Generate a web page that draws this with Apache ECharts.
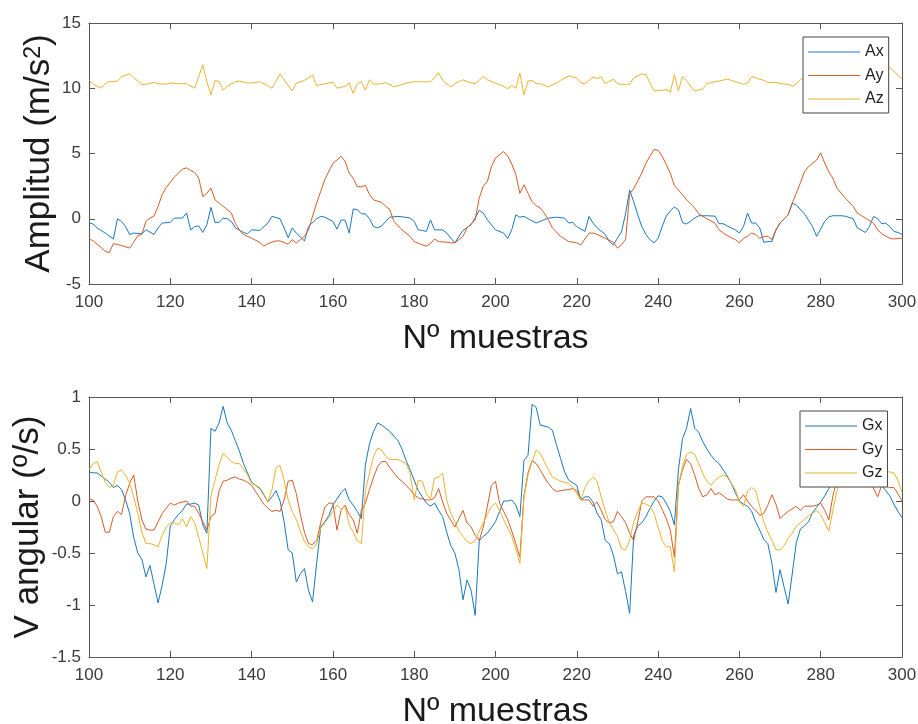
<!DOCTYPE html>
<html>
<head>
<meta charset="utf-8">
<script src="https://cdn.jsdelivr.net/npm/echarts@6/dist/echarts.min.js"></script>
<style>
  html, body { margin: 0; padding: 0; background: #fff; }
  #chart { width: 918px; height: 724px; }
</style>
</head>
<body>
<div id="chart"></div>
<script>
// [sample, value], acceleration (m/s^2)
const ax = [[100,-0.33],[101,-0.4],[102,-0.7],[104,-1.1],[106,-1.55],[107,0.0],[108,-0.2],[109,-0.6],[110,-1.2],[111,-1.1],[113,-1.15],[114,-0.85],[116,-1.2],[117,-0.7],[118,-0.33],[120,-0.28],[121,0.05],[122,0.05],[123,0.05],[124,0.45],[125,-0.85],[126,-0.6],[127,-0.55],[128,-1.05],[129,-0.45],[130,0.87],[131,-0.28],[132,-0.28],[133,0.05],[134,0.0],[135,-0.2],[136,-0.7],[138,-1.05],[139,-1.15],[140,-0.85],[142,-0.9],[144,-0.33],[145,0.18],[147,0.0],[148,-0.7],[149,-1.45],[150,-0.7],[151,-1.1],[153,-1.7],[154,-0.6],[156,0.0],[157,0.18],[158,0.12],[160,-0.2],[161,-0.8],[162,-0.1],[163,-0.1],[164,-1.1],[165,0.75],[166,0.7],[167,0.38],[168,0.38],[169,0.0],[170,-0.6],[171,-0.7],[172,-0.55],[173,-0.2],[174,0.12],[176,0.18],[177,0.15],[179,0.05],[180,-0.2],[181,-0.85],[182,-0.9],[183,-0.97],[184,-0.08],[185,-0.85],[187,-0.85],[188,-1.1],[190,-1.85],[191,-1.35],[192,-0.9],[194,-0.45],[195,0.05],[196,0.65],[197,0.43],[198,-0.08],[200,-0.85],[202,-1.1],[203,-1.5],[204,-0.85],[205,0.3],[206,0.12],[207,0.18],[208,0.0],[210,-0.33],[211,-0.2],[213,0.05],[215,0.12],[217,0.05],[218,-0.33],[219,-0.28],[220,-0.6],[222,-0.97],[223,0.18],[224,-0.33],[225,-0.7],[227,-1.2],[228,-1.75],[229,-2.0],[230,-1.5],[231,-1.0],[232,0.4],[233,2.2],[234,1.3],[235,0.3],[236,-0.6],[237,-1.2],[238,-1.6],[239,-1.85],[240,-1.5],[241,-0.6],[242,0.2],[243,0.6],[244,0.9],[245,0.7],[246,-0.3],[247,-0.4],[248,-0.2],[249,0.05],[250,0.23],[252,0.23],[254,0.2],[255,-0.38],[256,-0.38],[257,-0.55],[259,-0.85],[260,-1.1],[261,-0.6],[262,0.43],[263,-0.33],[264,-0.33],[265,-0.7],[266,-1.8],[267,-1.75],[268,-1.75],[269,-0.85],[270,-0.33],[272,0.3],[273,1.2],[274,1.05],[276,0.38],[278,-0.6],[279,-1.35],[281,-0.2],[282,0.15],[283,0.23],[285,0.23],[286,0.2],[288,0.0],[289,-0.7],[291,-1.05],[292,-0.6],[293,0.18],[294,0.0],[295,-0.38],[296,-0.33],[297,-0.6],[298,-0.97],[299,-1.05],[300,-1.2]];

const ay = [[100,-1.5],[101,-1.7],[103,-2.2],[104,-2.5],[105,-2.6],[106,-1.9],[108,-2.05],[110,-2.25],[111,-1.8],[112,-1.3],[113,-1.2],[114,-0.2],[115,0.05],[116,0.2],[117,0.95],[118,1.85],[119,2.4],[121,3.2],[123,3.8],[124,3.9],[125,3.7],[126,3.55],[127,3.1],[128,1.7],[129,1.95],[130,2.35],[131,1.45],[132,1.2],[133,0.95],[135,0.45],[136,-0.35],[137,-0.85],[138,-1.2],[140,-1.5],[142,-1.8],[143,-2.1],[144,-1.9],[146,-1.7],[147,-1.7],[149,-1.95],[150,-1.6],[151,-1.85],[152,-1.6],[153,-1.35],[154,-0.85],[155,0.2],[156,1.2],[157,2.1],[158,3.0],[160,4.25],[161,4.5],[162,4.8],[163,4.4],[164,3.5],[165,3.1],[166,2.45],[167,2.45],[168,2.55],[169,1.85],[170,1.45],[172,1.25],[173,0.95],[174,0.7],[175,-0.2],[177,-0.85],[179,-1.35],[180,-1.75],[182,-2.0],[183,-2.1],[184,-1.9],[185,-1.55],[186,-1.75],[188,-1.8],[189,-1.85],[190,-1.85],[192,-1.35],[193,-0.7],[195,-0.08],[196,1.6],[197,2.5],[198,2.85],[199,4.0],[200,4.65],[202,5.15],[203,4.8],[204,4.2],[205,3.4],[206,1.95],[207,2.6],[208,1.95],[209,1.3],[210,1.0],[211,0.82],[212,0.43],[213,-0.08],[214,-0.7],[216,-1.35],[217,-1.55],[218,-1.75],[220,-1.85],[221,-2.0],[223,-1.1],[224,-1.1],[225,-1.2],[227,-1.5],[229,-1.8],[230,-2.25],[231,-2.0],[232,-1.6],[233,1.9],[234,2.3],[236,3.5],[237,4.25],[238,4.8],[239,5.3],[240,5.25],[241,4.8],[242,4.15],[243,3.5],[244,2.55],[246,1.85],[247,1.45],[248,1.15],[249,0.82],[250,0.38],[252,0.0],[254,-0.33],[255,-0.85],[257,-1.3],[259,-1.6],[260,-1.85],[261,-1.5],[262,-1.35],[263,-1.1],[264,-1.2],[265,-1.5],[266,-1.35],[267,-1.35],[268,-1.6],[269,-0.85],[270,-0.33],[272,0.3],[273,1.2],[274,1.95],[275,2.75],[276,3.6],[277,4.0],[279,4.5],[280,5.05],[281,4.25],[282,3.6],[283,3.1],[284,2.35],[286,1.6],[288,0.95],[289,0.43],[291,0.05],[293,-0.33],[294,-0.85],[295,-1.15],[297,-1.5],[298,-1.55],[299,-1.5],[300,-1.5]];

const az = [[100,10.65],[101,10.3],[103,10.0],[104,10.35],[105,10.5],[107,10.55],[108,10.9],[110,11.1],[111,10.8],[113,10.3],[114,10.3],[116,10.45],[117,10.35],[119,10.3],[120,10.4],[122,10.35],[124,10.35],[126,10.0],[127,10.9],[128,11.8],[129,10.5],[130,9.5],[131,10.6],[132,10.5],[133,9.85],[134,10.15],[136,10.5],[137,10.55],[139,10.4],[140,10.4],[142,10.5],[144,10.2],[145,10.0],[147,11.1],[148,10.65],[150,9.8],[151,10.4],[153,10.6],[155,11.0],[156,10.2],[158,10.35],[160,10.45],[161,10.0],[163,10.15],[164,10.4],[165,9.6],[166,10.35],[167,10.5],[168,9.85],[169,10.65],[170,10.3],[172,10.35],[173,10.45],[175,10.1],[178,10.4],[180,10.5],[182,10.5],[184,10.5],[185,10.8],[186,11.2],[187,10.6],[189,10.1],[190,10.35],[192,10.65],[193,10.5],[195,10.35],[197,10.9],[198,10.65],[200,10.4],[202,10.15],[203,9.95],[204,10.2],[205,10.0],[206,11.15],[207,9.5],[208,10.55],[209,10.6],[210,10.35],[211,10.35],[213,10.1],[215,10.4],[216,10.6],[218,10.95],[220,10.8],[221,10.4],[222,10.35],[224,10.85],[225,10.75],[226,10.85],[227,10.35],[229,10.7],[230,10.35],[231,10.3],[233,10.3],[234,10.8],[236,11.1],[237,11.05],[238,10.4],[239,9.8],[241,9.85],[242,9.9],[243,9.7],[244,11.05],[245,9.8],[246,10.9],[247,10.6],[248,10.15],[249,9.8],[251,9.95],[252,10.35],[254,10.5],[255,10.55],[257,10.7],[258,10.6],[260,10.4],[261,10.3],[262,10.4],[263,10.9],[264,10.8],[266,10.6],[267,10.45],[269,10.45],[270,10.35],[272,10.3],[273,10.15],[274,10.35],[275,10.65],[276,10.8],[278,10.6],[280,10.4],[282,10.5],[284,10.3],[286,10.5],[288,10.4],[290,10.6],[292,10.4],[294,10.6],[295,11.2],[297,11.6],[298,11.3],[300,10.7]];

// angular rate (º/s)
const gx = [[100,0.28],[101,0.27],[102,0.27],[103,0.24],[104,0.21],[105,0.18],[106,0.13],[107,0.15],[108,0.11],[109,0.01],[110,-0.12],[111,-0.35],[112,-0.5],[113,-0.56],[114,-0.73],[115,-0.62],[116,-0.8],[117,-0.98],[118,-0.81],[119,-0.6],[120,-0.24],[121,-0.18],[122,-0.13],[123,-0.09],[124,-0.03],[125,-0.03],[126,-0.02],[127,-0.04],[128,-0.23],[129,-0.31],[130,0.7],[131,0.67],[132,0.75],[133,0.91],[134,0.75],[135,0.68],[136,0.58],[137,0.48],[138,0.36],[139,0.27],[140,0.18],[142,0.12],[143,0.06],[144,-0.01],[145,0.04],[146,0.1],[147,0.0],[148,-0.2],[149,-0.47],[150,-0.5],[151,-0.78],[152,-0.7],[153,-0.65],[154,-0.86],[155,-0.97],[156,-0.6],[157,-0.25],[158,-0.2],[159,-0.14],[160,-0.04],[161,0.02],[162,0.08],[163,0.12],[164,0.01],[165,-0.04],[166,-0.1],[167,-0.17],[168,0.35],[169,0.55],[170,0.67],[171,0.75],[172,0.73],[173,0.7],[174,0.67],[176,0.58],[177,0.5],[178,0.39],[179,0.3],[181,0.1],[182,0.04],[183,-0.02],[184,-0.05],[185,-0.02],[186,-0.09],[187,-0.15],[188,-0.3],[189,-0.43],[190,-0.5],[191,-0.66],[192,-0.95],[193,-0.76],[194,-0.86],[195,-1.1],[196,-0.38],[197,-0.34],[198,-0.31],[200,-0.2],[201,-0.1],[202,0.0],[203,0.0],[204,0.01],[205,-0.04],[206,-0.15],[207,0.39],[208,0.44],[209,0.93],[210,0.9],[211,0.73],[212,0.72],[213,0.71],[214,0.68],[215,0.54],[216,0.41],[217,0.28],[218,0.2],[220,0.15],[221,0.01],[222,0.04],[223,0.04],[224,-0.01],[225,-0.12],[226,-0.18],[227,-0.38],[228,-0.41],[229,-0.52],[230,-0.7],[231,-0.68],[232,-0.87],[233,-1.08],[234,-0.33],[235,-0.24],[236,-0.21],[237,-0.15],[238,-0.07],[239,0.0],[240,0.05],[241,0.04],[242,-0.02],[243,-0.1],[244,-0.23],[245,0.3],[246,0.6],[247,0.7],[248,0.89],[249,0.7],[250,0.66],[251,0.57],[252,0.5],[253,0.44],[254,0.39],[255,0.36],[256,0.3],[257,0.24],[258,0.17],[259,0.08],[260,0.0],[261,-0.03],[262,-0.05],[263,-0.1],[264,-0.2],[265,-0.28],[266,-0.37],[267,-0.41],[268,-0.6],[269,-0.88],[270,-0.66],[271,-0.83],[272,-0.99],[273,-0.7],[274,-0.4],[275,-0.27],[276,-0.24],[277,-0.2],[278,-0.11],[279,-0.06],[280,-0.01],[281,0.05],[282,0.12],[283,0.2],[284,0.4],[285,0.65],[286,0.8],[287,0.7],[288,0.62],[289,0.55],[290,0.45],[291,0.38],[292,0.32],[293,0.25],[295,0.15],[297,0.05],[298,-0.03],[299,-0.1],[300,-0.16]];

const gy = [[100,0.02],[101,0.01],[102,-0.05],[103,-0.15],[104,-0.3],[105,-0.3],[106,-0.15],[107,-0.1],[108,-0.13],[109,0.05],[110,0.17],[111,0.25],[112,0.0],[113,-0.18],[114,-0.27],[115,-0.28],[116,-0.28],[117,-0.2],[118,-0.12],[119,-0.07],[120,-0.02],[121,-0.04],[122,-0.02],[124,0.0],[125,-0.05],[126,-0.05],[127,-0.12],[128,-0.2],[129,-0.28],[130,-0.15],[131,-0.12],[132,0.1],[133,0.19],[134,0.2],[135,0.22],[136,0.23],[137,0.21],[138,0.2],[139,0.18],[140,0.15],[141,0.09],[142,0.03],[143,-0.03],[144,-0.07],[145,-0.1],[146,-0.09],[147,-0.1],[148,0.01],[149,0.19],[150,0.2],[151,0.07],[152,-0.13],[153,-0.3],[154,-0.41],[155,-0.42],[156,-0.38],[157,-0.21],[158,-0.06],[159,-0.02],[160,-0.02],[161,-0.28],[162,-0.09],[163,-0.04],[164,-0.13],[165,-0.18],[166,-0.31],[167,-0.09],[168,-0.02],[169,0.11],[170,0.23],[171,0.33],[172,0.38],[173,0.38],[174,0.32],[176,0.22],[177,0.19],[178,0.15],[179,0.11],[180,0.06],[181,0.03],[183,0.01],[184,0.01],[185,0.03],[186,0.12],[187,-0.01],[188,-0.12],[190,-0.25],[191,-0.17],[192,-0.09],[193,-0.21],[194,-0.25],[195,-0.33],[196,-0.38],[197,-0.25],[198,-0.05],[199,0.15],[200,0.19],[201,-0.02],[202,-0.1],[203,-0.18],[204,-0.29],[205,-0.41],[206,-0.54],[207,0.05],[208,0.27],[209,0.39],[210,0.36],[211,0.3],[212,0.23],[213,0.17],[214,0.12],[215,0.09],[216,0.1],[218,0.11],[219,0.12],[220,0.1],[221,0.01],[222,0.01],[223,0.01],[224,-0.05],[225,-0.01],[226,-0.09],[227,-0.18],[228,-0.21],[229,-0.2],[230,-0.1],[231,-0.15],[232,-0.21],[233,-0.31],[234,-0.38],[235,-0.2],[236,0.0],[237,0.04],[238,0.04],[239,0.04],[240,0.0],[241,-0.08],[242,-0.17],[243,-0.28],[244,-0.54],[245,0.15],[246,0.3],[247,0.4],[248,0.36],[249,0.25],[250,0.12],[251,0.04],[252,0.06],[253,0.12],[254,0.06],[255,0.08],[256,0.05],[257,0.02],[258,0.01],[260,0.01],[261,0.06],[262,0.0],[263,-0.05],[264,-0.09],[265,-0.14],[266,-0.12],[267,-0.04],[268,0.06],[269,-0.03],[270,-0.17],[271,-0.13],[272,-0.1],[274,-0.05],[275,-0.09],[276,-0.05],[278,-0.05],[279,-0.04],[280,-0.02],[281,-0.09],[282,-0.18],[283,0.05],[284,0.2],[286,0.3],[288,0.35],[290,0.3],[292,0.2],[294,0.04],[295,0.15],[297,0.13],[298,0.13],[299,0.07],[300,0.0]];

const gz = [[100,0.3],[101,0.36],[102,0.38],[103,0.28],[104,0.18],[105,0.13],[106,0.15],[107,0.28],[108,0.3],[109,0.25],[110,0.17],[111,0.04],[112,-0.12],[113,-0.3],[114,-0.41],[115,-0.41],[116,-0.42],[117,-0.44],[118,-0.33],[119,-0.25],[120,-0.21],[121,-0.21],[122,-0.23],[123,-0.17],[124,-0.25],[125,-0.15],[126,-0.21],[127,-0.35],[128,-0.5],[129,-0.65],[130,0.05],[131,0.2],[132,0.35],[133,0.46],[134,0.42],[135,0.38],[136,0.36],[137,0.36],[138,0.31],[139,0.25],[140,0.17],[142,0.13],[143,0.07],[144,-0.01],[145,0.11],[146,0.32],[147,0.34],[148,0.2],[149,0.01],[150,-0.1],[151,-0.18],[152,-0.29],[153,-0.39],[154,-0.44],[155,-0.46],[156,-0.41],[157,-0.26],[158,-0.21],[159,-0.16],[160,-0.1],[161,-0.04],[162,-0.08],[163,-0.05],[164,-0.23],[165,-0.3],[166,-0.38],[167,-0.41],[168,0.1],[169,0.27],[170,0.43],[171,0.51],[172,0.49],[173,0.43],[174,0.4],[176,0.4],[177,0.38],[178,0.36],[179,0.27],[180,0.01],[181,0.2],[182,0.19],[183,0.07],[184,0.02],[185,0.22],[186,0.23],[187,0.27],[188,0.01],[189,-0.12],[190,-0.2],[191,-0.29],[192,-0.34],[193,-0.39],[194,-0.41],[195,-0.38],[196,-0.29],[197,-0.21],[198,-0.13],[199,-0.05],[200,-0.02],[201,-0.09],[202,-0.18],[203,-0.26],[204,-0.34],[205,-0.46],[206,-0.6],[207,0.04],[208,0.25],[209,0.38],[210,0.49],[211,0.46],[212,0.38],[213,0.3],[214,0.23],[216,0.19],[218,0.17],[219,0.13],[221,0.01],[222,0.13],[223,0.19],[224,0.23],[225,0.19],[226,0.04],[227,-0.09],[228,-0.21],[230,-0.34],[231,-0.46],[232,-0.47],[233,-0.38],[234,-0.2],[235,-0.1],[236,-0.02],[237,-0.03],[238,-0.05],[239,-0.12],[240,-0.25],[241,-0.38],[242,-0.44],[243,-0.44],[244,-0.68],[245,0.15],[246,0.33],[247,0.45],[248,0.47],[249,0.45],[250,0.36],[251,0.26],[252,0.19],[253,0.15],[254,0.2],[255,0.23],[256,0.25],[257,0.23],[258,0.17],[259,0.11],[260,-0.01],[261,-0.05],[262,0.09],[263,0.13],[264,0.1],[265,-0.05],[266,-0.2],[267,-0.3],[268,-0.38],[269,-0.47],[270,-0.47],[271,-0.43],[272,-0.36],[273,-0.31],[274,-0.24],[275,-0.21],[276,-0.18],[277,-0.14],[278,-0.12],[279,-0.09],[280,-0.13],[281,-0.21],[282,-0.29],[283,-0.09],[284,0.1],[285,0.22],[287,0.35],[289,0.4],[291,0.35],[293,0.3],[295,0.28],[297,0.28],[298,0.27],[299,0.2],[300,0.08]];

const accNames = ['Ax', 'Ay', 'Az'];
const gyroNames = ['Gx', 'Gy', 'Gz'];
const colors = ['#1a78bb', '#d65c28', '#e8b430'];

const FONT = '"Liberation Sans", Arial, sans-serif';
const AXIS_COLOR = '#555';

// box-style axes like matlab: ticks on all four sides, labels only bottom/left
function xAx(grid, top) {
  return {
    type: 'value', gridIndex: grid, min: 100, max: 300, interval: 20,
    position: top ? 'top' : 'bottom',
    axisLine: { show: true, onZero: false, lineStyle: { color: AXIS_COLOR, width: 1 } },
    axisTick: { show: true, inside: true, length: 6, lineStyle: { color: AXIS_COLOR } },
    axisLabel: { show: !top, color: '#3a3a3a', fontSize: 17, margin: 10, fontFamily: FONT },
    splitLine: { show: false },
    name: top ? '' : 'Nº muestras',
    nameLocation: 'middle', nameGap: 38, nameMoveOverlap: false,
    nameTextStyle: { fontSize: 34, color: '#1a1a1a', fontFamily: FONT }
  };
}

function yAx(grid, right, min, max, step, name, gap) {
  return {
    type: 'value', gridIndex: grid, min: min, max: max, interval: step,
    position: right ? 'right' : 'left',
    axisLine: { show: true, onZero: false, lineStyle: { color: AXIS_COLOR, width: 1 } },
    axisTick: { show: true, inside: true, length: 6, lineStyle: { color: AXIS_COLOR } },
    axisLabel: { show: !right, color: '#3a3a3a', fontSize: 17, margin: 8, fontFamily: FONT },
    splitLine: { show: false },
    name: right ? '' : name,
    nameLocation: 'middle', nameRotate: 90, nameGap: gap, nameMoveOverlap: false,
    nameTextStyle: {
      fontSize: 35, color: '#1a1a1a', fontFamily: FONT,
      rich: { sup: { fontSize: 23, verticalAlign: 'top', fontFamily: FONT, color: '#1a1a1a' } }
    }
  };
}

function lineSeries(name, data, color, axisIdx) {
  return {
    name: name, type: 'line', data: data,
    xAxisIndex: axisIdx, yAxisIndex: axisIdx,
    symbol: 'none', smooth: false,
    lineStyle: { width: 1, color: color },
    itemStyle: { color: color },
    emphasis: { disabled: true }
  };
}

// legend sample is a thin filled rect so it reads as a plain line
function legendBox(names, left, top) {
  return {
    data: names, orient: 'vertical', left: left, top: top,
    icon: 'rect', itemWidth: 52, itemHeight: 1.2, itemGap: 7.5,
    padding: [7, 5, 6, 5],
    backgroundColor: '#fff', borderColor: '#444', borderWidth: 1, borderRadius: 0,
    textStyle: { fontSize: 16, lineHeight: 14, color: '#222', fontFamily: FONT },
    selectedMode: false
  };
}

const chart = echarts.init(document.getElementById('chart'), null, { renderer: 'canvas' });

chart.setOption({
  animation: false,
  backgroundColor: '#fff',
  textStyle: { fontFamily: FONT },
  grid: [
    { left: 89, top: 23, width: 813, height: 261, outerBoundsMode: 'none' },
    { left: 89, top: 397, width: 813, height: 260, outerBoundsMode: 'none' }
  ],
  legend: [legendBox(accNames, 803, 37), legendBox(gyroNames, 800, 411)],
  xAxis: [xAx(0, false), xAx(0, true), xAx(1, false), xAx(1, true)],
  yAxis: [
    yAx(0, false, -5, 15, 5, 'Amplitud (m/s{sup|2})', 32),
    yAx(0, true, -5, 15, 5, '', 0),
    yAx(1, false, -1.5, 1, 0.5, 'V angular (º/s)', 43),
    yAx(1, true, -1.5, 1, 0.5, '', 0)
  ],
  series: [
    lineSeries(accNames[0], ax, colors[0], 0),
    lineSeries(accNames[1], ay, colors[1], 0),
    lineSeries(accNames[2], az, colors[2], 0),
    lineSeries(gyroNames[0], gx, colors[0], 2),
    lineSeries(gyroNames[1], gy, colors[1], 2),
    lineSeries(gyroNames[2], gz, colors[2], 2)
  ]
});
</script>
</body>
</html>
